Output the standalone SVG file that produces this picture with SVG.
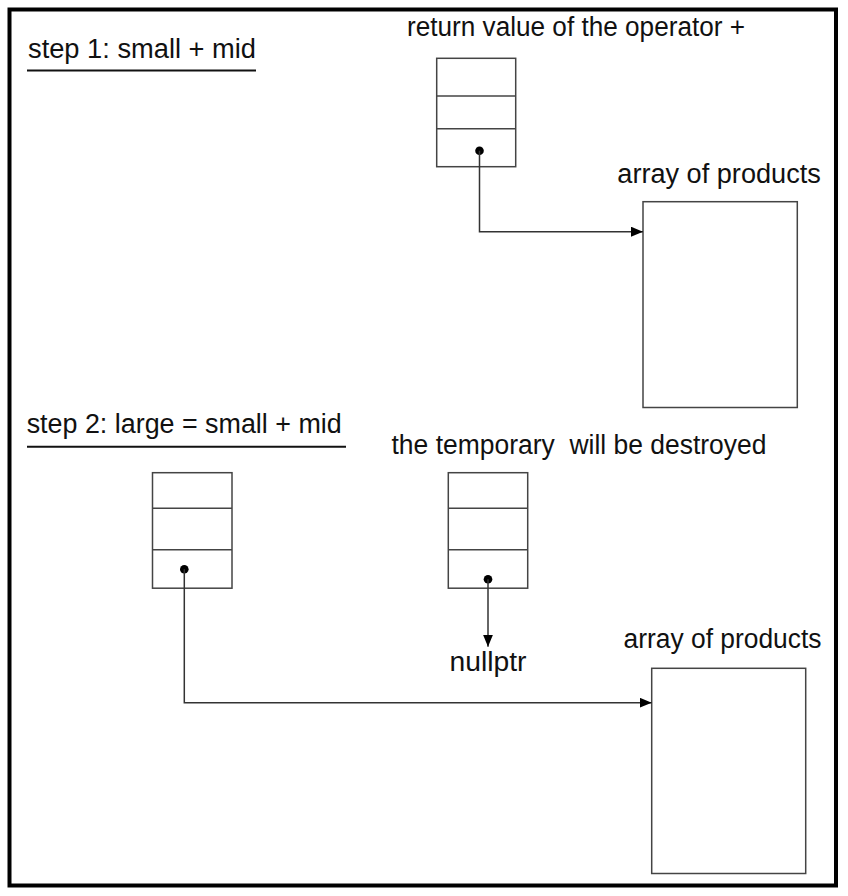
<svg xmlns="http://www.w3.org/2000/svg" width="848" height="896" viewBox="0 0 848 896">
<style>
.t{font-family:"Liberation Sans",Arial,sans-serif;font-size:27px;fill:#111;}
.box{fill:#fff;stroke:#444;stroke-width:1.5;}
.div{stroke:#444;stroke-width:1.5;}
.con{fill:none;stroke:#333;stroke-width:1.5;}
.ul{stroke:#111;stroke-width:2;}
.dot{fill:#000;}
</style>
<defs>
<marker id="ah" markerWidth="12" markerHeight="10" refX="12" refY="5" orient="auto" markerUnits="userSpaceOnUse">
<path d="M0,0 L12,5 L0,10 Z" fill="#000"/>
</marker>
</defs>
<rect x="0" y="0" width="848" height="896" fill="#fff"/>
<rect id="frame" x="9.5" y="9.5" width="826.5" height="876" fill="none" stroke="#000" stroke-width="4"/>

<g id="step1-title">
<text class="t" x="28" y="58" textLength="228" lengthAdjust="spacingAndGlyphs">step 1: small + mid</text>
<line class="ul" x1="27" y1="70.5" x2="256" y2="70.5"/>
</g>

<g id="return-value">
<text class="t" x="407" y="36" textLength="338" lengthAdjust="spacingAndGlyphs">return value of the operator +</text>
<rect class="box" x="436.7" y="58.3" width="79" height="108.4"/>
<line class="div" x1="436.7" y1="96" x2="515.7" y2="96"/>
<line class="div" x1="436.7" y1="128.7" x2="515.7" y2="128.7"/>
<circle class="dot" cx="479.5" cy="150.7" r="4.3"/>
</g>

<g id="array1">
<text class="t" x="617.3" y="183" textLength="203.5" lengthAdjust="spacingAndGlyphs">array of products</text>
<rect class="box" x="643" y="201.7" width="154.3" height="205.8"/>
</g>

<g id="step2-title">
<text class="t" x="26.7" y="433" textLength="315" lengthAdjust="spacingAndGlyphs">step 2: large = small + mid</text>
<line class="ul" x1="27" y1="446.7" x2="346" y2="446.7"/>
</g>

<g id="large">
<rect class="box" x="152.5" y="472.7" width="79.5" height="115.5"/>
<line class="div" x1="152.5" y1="508.3" x2="232" y2="508.3"/>
<line class="div" x1="152.5" y1="549.7" x2="232" y2="549.7"/>
<circle class="dot" cx="184.3" cy="569.3" r="4.3"/>
</g>

<g id="temporary">
<text class="t" x="391.5" y="454" textLength="375" lengthAdjust="spacingAndGlyphs" xml:space="preserve">the temporary  will be destroyed</text>
<rect class="box" x="448.3" y="472.7" width="79.4" height="115.5"/>
<line class="div" x1="448.3" y1="508.3" x2="527.7" y2="508.3"/>
<line class="div" x1="448.3" y1="549.7" x2="527.7" y2="549.7"/>
<circle class="dot" cx="488" cy="579.3" r="4.3"/>
</g>

<g id="nullptr">
<text class="t" x="449.5" y="671" textLength="77" lengthAdjust="spacingAndGlyphs">nullptr</text>
</g>

<g id="array2">
<text class="t" x="623.5" y="648.3" textLength="198" lengthAdjust="spacingAndGlyphs">array of products</text>
<rect class="box" x="651.7" y="668.3" width="154" height="205.2"/>
</g>

<g id="connectors">
<path class="con" d="M479.5,150.7 V231.7 H643" marker-end="url(#ah)"/>
<path class="con" d="M488,579.3 V646.7" marker-end="url(#ah)"/>
<path class="con" d="M184.3,569.3 V702.7 H651.7" marker-end="url(#ah)"/>
</g>
</svg>
